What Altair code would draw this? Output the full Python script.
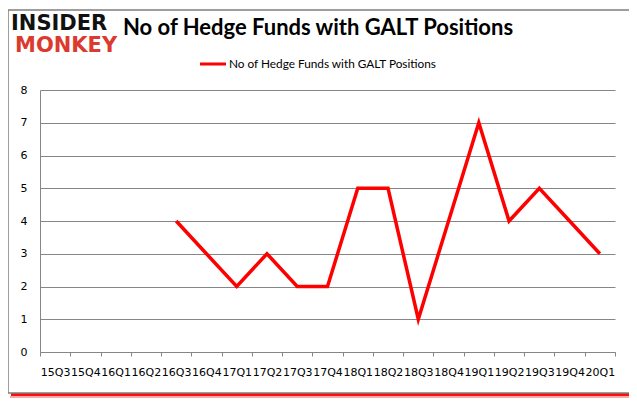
import altair as alt
import pandas as pd

quarters = ["15Q3", "15Q4", "16Q1", "16Q2", "16Q3", "16Q4", "17Q1", "17Q2", "17Q3", "17Q4",
            "18Q1", "18Q2", "18Q3", "18Q4", "19Q1", "19Q2", "19Q3", "19Q4", "20Q1"]
funds = [None, None, None, None, 4, 3, 2, 3, 2, 2, 5, 5, 1, 4, 7, 4, 5, 4, 3]
series_name = "No of Hedge Funds with GALT Positions"
title_text = "No of Hedge Funds with GALT Positions"
y_ticks = [0, 1, 2, 3, 4, 5, 6, 7, 8]

W, H = 575, 262
GRID = "#868686"

df = pd.DataFrame({"quarter": quarters, "funds": funds})
one = pd.DataFrame({"k": [0]})

x_enc = alt.X("quarter:N", sort=quarters, bandPosition=0.5,
              scale=alt.Scale(type="band", domain=quarters, paddingInner=0, paddingOuter=0),
              axis=alt.Axis(title=None, tickBand="extent", labelAngle=0, labelOverlap=False,
                            labelFont="DejaVu Sans", labelFontSize=11, labelColor="#000000",
                            labelPadding=10, tickSize=4, tickColor=GRID, domainColor=GRID,
                            grid=False, labelBaseline="top"))
y_enc = alt.Y("funds:Q", scale=alt.Scale(domain=[0, 8], nice=False, zero=True),
              axis=alt.Axis(title=None, values=y_ticks, grid=True, gridColor=GRID, gridWidth=1,
                            domainColor=GRID, ticks=False, labelPadding=13,
                            labelFont="DejaVu Sans", labelFontSize=11, labelColor="#000000"))

line = alt.Chart(df).transform_filter("isValid(datum.funds)").mark_line(
    color="#ff0000", strokeWidth=3.5, strokeJoin="miter").encode(x=x_enc, y=y_enc)

base = alt.Chart(one)

shadow_bottom = base.mark_rect(color="#ff0000", opacity=0.95).encode(
    x=alt.value(-29), x2=alt.value(595), y=alt.value(303), y2=alt.value(306))
shadow_bottom2 = base.mark_rect(color="#ff0000", opacity=0.35).encode(
    x=alt.value(-30), x2=alt.value(596), y=alt.value(306), y2=alt.value(308))
shadow_right = base.mark_rect(color="#ff0000", opacity=0.15).encode(
    x=alt.value(591), x2=alt.value(595), y=alt.value(-80), y2=alt.value(303))
shadow_left = base.mark_rect(color="#ff0000", opacity=0.15).encode(
    x=alt.value(-35), x2=alt.value(-32), y=alt.value(-78), y2=alt.value(303))
frame = base.mark_rect(fill="transparent", stroke="#7f7f7f", strokeWidth=1.5).encode(
    x=alt.value(-32), x2=alt.value(591), y=alt.value(-80), y2=alt.value(303))

logo1 = base.mark_text(text="INSIDER", font="DejaVu Sans", fontWeight="bold", fontSize=21,
                       color="#111111", align="left", baseline="alphabetic").encode(
    x=alt.value(-29), y=alt.value(-60))
logo2 = base.mark_text(text="MONKEY", font="DejaVu Sans", fontWeight="bold", fontSize=21,
                       color="#dc3a2e", align="left", baseline="alphabetic").encode(
    x=alt.value(-25), y=alt.value(-38))
title = base.mark_text(text=title_text, font="Lato", fontWeight="bold", fontSize=22,
                       color="#000000", align="center", baseline="alphabetic").encode(
    x=alt.value(278), y=alt.value(-55))
leg_line = base.mark_rule(color="#ff0000", strokeWidth=3).encode(
    x=alt.value(160), x2=alt.value(186), y=alt.value(-26))
leg_text = base.mark_text(text=series_name, font="Lato", fontSize=11.8, color="#000000",
                          align="left", baseline="middle").encode(
    x=alt.value(189), y=alt.value(-26))

chart = alt.layer(shadow_bottom, shadow_bottom2, shadow_right, shadow_left, frame,
                  logo1, logo2, title, leg_line, leg_text, line).properties(
    width=W, height=H,
    autosize=alt.AutoSizeParams(type="none"),
    padding={"left": 32, "top": 82, "right": 14, "bottom": 48},
    background="white",
).configure_view(stroke=None)

chart.save("out.html", embed_options={"renderer": "svg", "actions": False})
